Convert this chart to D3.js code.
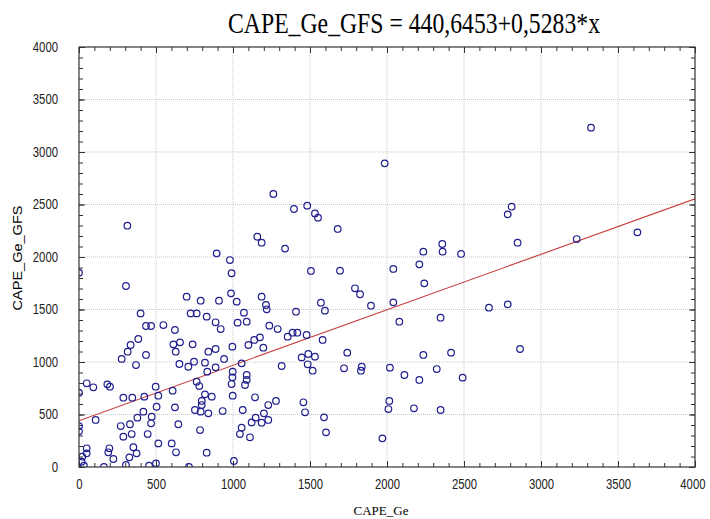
<!DOCTYPE html>
<html>
<head>
<meta charset="utf-8">
<script src="https://cdn.jsdelivr.net/npm/d3@7"></script>
<style>
  body { margin: 0; background: #fff; }
</style>
</head>
<body>
<div id="chart"></div>
<script>
// Data: CAPE_Ge (x) vs CAPE_Ge_GFS (y)
const capeGe = [
  894, 980, 991, 0, 305, 699, 790, 909, 987, 400, 725, 764, 829, 887, 920, 435, 468, 548, 623, 385,
  335, 316, 277, 435, 370, 613, 656, 738, 628, 652, 710, 747, 818, 840, 887, 942, 887, 833, 50, 93,
  184, 201, 0, 764, 781, 498, 608, 996, 998, 991, 996, 818, 862, 840, 933, 998, 829, 1006,
  288, 346, 424, 515, 108, 0, 0, 271, 331, 379, 418, 472, 468, 504, 623, 645, 288, 342, 446, 515,
  602, 630, 353, 374, 327, 305, 197, 190, 223, 50, 50, 21, 17, 32, 162, 455, 500, 714, 753, 790,
  786, 797, 797,
  1506, 1695, 1792, 1825, 1896, 1024, 1186, 1214, 1219, 1571, 1597, 1409, 1071, 1030, 1089, 1236, 1290, 1355, 1387, 1418,
  1478, 1582, 1175, 1138, 1100, 1197, 1056, 1089, 1089, 1078, 1143, 1316, 1446, 1489, 1532, 1485, 1517, 1742, 1721, 1836,
  1831, 1063, 1229, 1279, 1201, 1147, 1121, 1186, 1229, 1056, 1045, 1110, 1457, 1468, 1591, 1604, 1970, 1338,
  2236, 2361, 2481, 2210, 2041, 2242, 2041, 2080, 2348, 2662, 2784, 2864, 2236, 2416, 2019, 2113, 2210, 2323, 2491, 2015,
  2009, 2175, 2348, 2359, 2809, 2784, 2848,
  1262, 1396, 1482, 1532, 1552, 1680, 1158, 1186, 1985, 314, 3325, 3232, 3626
];
const capeGeGfs = [
  2035, 1971, 1845, 1851, 1724, 1622, 1584, 1584, 1654, 1463, 1463, 1463, 1432, 1378, 1314, 1343, 1343, 1352, 1305, 1219,
  1162, 1098, 1029, 1067, 971, 1168, 1187, 1168, 1098, 981, 955, 1003, 994, 1098, 1124, 1029, 949, 908, 797, 759,
  787, 765, 708, 813, 771, 765, 727, 854, 908, 790, 1146, 692, 670, 511, 533, 679, 136, 57,
  660, 660, 670, 679, 448, 390, 340, 390, 407, 470, 527, 479, 416, 574, 568, 407, 289, 314, 314, 225,
  225, 140, 188, 130, 92, 19, 178, 140, 76, 178, 130, 98, 50, 12, 0, 12, 35, 0, 543, 527,
  352, 629, 590,
  1867, 1870, 1702, 1645, 1536, 1575, 1622, 1543, 1502, 1565, 1489, 1479, 1470, 1375, 1384, 1346, 1314, 1241, 1279, 1279,
  1257, 1210, 1235, 1210, 1162, 1136, 987, 876, 829, 781, 664, 962, 1044, 1076, 1051, 978, 917, 1089, 940, 955,
  917, 543, 590, 629, 511, 470, 425, 422, 448, 375, 314, 283, 616, 521, 473, 330, 273, 2080,
  2051, 2051, 2029, 1930, 1886, 1749, 1568, 1384, 1422, 1517, 1549, 1124, 1067, 1089, 946, 876, 829, 933, 851, 629,
  552, 559, 543, 2124, 2479, 2406, 2136,
  2600, 2457, 2489, 2415, 2375, 2267, 2193, 2136, 2892, 2298, 3232, 2171, 2235
];

// Fitted line shown in the title
const intercept = 440.6453;
const slope = 0.5283;

const majorTicks = [0, 500, 1000, 1500, 2000, 2500, 3000, 3500, 4000];
const minorTicks = d3.range(0, 4001, 100);

const width = 710;
const height = 519;
const margin = { top: 47, right: 15, bottom: 52, left: 79 };
const plotW = width - margin.left - margin.right;
const plotH = height - margin.top - margin.bottom;

const svg = d3.select("#chart")
  .append("svg")
  .attr("width", width)
  .attr("height", height);

const g = svg.append("g")
  .attr("transform", `translate(${margin.left},${margin.top})`);

const x = d3.scaleLinear().domain([0, 4000]).range([0, plotW]);
const y = d3.scaleLinear().domain([0, 4000]).range([plotH, 0]);

// Dotted grid
g.append("g")
  .selectAll("line")
  .data(majorTicks.slice(1, -1))
  .join("line")
  .attr("x1", d => x(d)).attr("x2", d => x(d))
  .attr("y1", 0).attr("y2", plotH)
  .attr("stroke", "#c8c8c8")
  .attr("stroke-dasharray", "1,1");

g.append("g")
  .selectAll("line")
  .data(majorTicks.slice(1, -1))
  .join("line")
  .attr("x1", 0).attr("x2", plotW)
  .attr("y1", d => y(d)).attr("y2", d => y(d))
  .attr("stroke", "#c8c8c8")
  .attr("stroke-dasharray", "1,1");

// Inward ticks on all four sides
function ticks(axis, transform, values, size) {
  const a = g.append("g")
    .attr("transform", transform)
    .call(axis.tickValues(values).tickSize(-size).tickFormat(""));
  a.select(".domain").remove();
  a.selectAll("line").attr("stroke", "#333");
}
ticks(d3.axisBottom(x), `translate(0,${plotH})`, minorTicks, 4);
ticks(d3.axisTop(x), "translate(0,0)", minorTicks, 4);
ticks(d3.axisLeft(y), "translate(0,0)", minorTicks, 4);
ticks(d3.axisRight(y), `translate(${plotW},0)`, minorTicks, 4);
ticks(d3.axisBottom(x), `translate(0,${plotH})`, majorTicks, 6);
ticks(d3.axisTop(x), "translate(0,0)", majorTicks, 6);
ticks(d3.axisLeft(y), "translate(0,0)", majorTicks, 6);
ticks(d3.axisRight(y), `translate(${plotW},0)`, majorTicks, 6);

// Tick labels
const xAxis = g.append("g")
  .attr("transform", `translate(0,${plotH})`)
  .call(d3.axisBottom(x).tickValues(majorTicks).tickSize(0).tickPadding(12).tickFormat(d3.format("d")));
xAxis.select(".domain").remove();

const yAxis = g.append("g")
  .call(d3.axisLeft(y).tickValues(majorTicks).tickSize(0).tickPadding(21).tickFormat(d3.format("d")));
yAxis.select(".domain").remove();

g.selectAll(".tick text")
  .attr("font-family", "Liberation Sans, Arial, sans-serif")
  .attr("font-size", 14)
  .attr("fill", "#222")
  .attr("textLength", function () { return this.textContent.length * 6.3; })
  .attr("lengthAdjust", "spacingAndGlyphs");

// last x label sits at the window edge: anchor its right end instead
xAxis.selectAll(".tick text")
  .filter(d => d === 4000)
  .attr("text-anchor", "end")
  .attr("x", 10);

// Clip for the marks
svg.append("defs").append("clipPath")
  .attr("id", "plot-clip")
  .append("rect")
  .attr("width", plotW)
  .attr("height", plotH);

const marks = g.append("g").attr("clip-path", "url(#plot-clip)");

// Regression line
marks.append("line")
  .attr("x1", x(0)).attr("y1", y(intercept))
  .attr("x2", x(4000)).attr("y2", y(intercept + slope * 4000))
  .attr("stroke", "#c83c3c")
  .attr("stroke-width", 1.1);

// Points
marks.append("g")
  .selectAll("circle")
  .data(capeGe.map((v, i) => [v, capeGeGfs[i]]))
  .join("circle")
  .attr("cx", d => x(d[0]))
  .attr("cy", d => y(d[1]))
  .attr("r", 3.3)
  .attr("fill", "none")
  .attr("stroke", "#1f1f8f")
  .attr("stroke-width", 1.2);

// Frame
g.append("rect")
  .attr("width", plotW)
  .attr("height", plotH)
  .attr("fill", "none")
  .attr("stroke", "#333")
  .attr("stroke-width", 1.2);

// Title and axis titles
svg.append("text")
  .attr("x", 228)
  .attr("y", 33)
  .attr("font-family", "Liberation Serif, Times New Roman, serif")
  .attr("font-size", 29)
  .attr("textLength", 372)
  .attr("lengthAdjust", "spacingAndGlyphs")
  .text(`CAPE_Ge_GFS = 440,6453+0,5283*x`);

svg.append("text")
  .attr("x", margin.left + plotW / 2 - 6)
  .attr("y", 515)
  .attr("text-anchor", "middle")
  .attr("font-family", "Liberation Serif, Times New Roman, serif")
  .attr("font-size", 13)
  .text("CAPE_Ge");

svg.append("text")
  .attr("transform", `translate(22,258) rotate(-90)`)
  .attr("text-anchor", "middle")
  .attr("font-family", "Liberation Sans, Arial, sans-serif")
  .attr("font-size", 12)
  .attr("textLength", 105)
  .attr("lengthAdjust", "spacingAndGlyphs")
  .text("CAPE_Ge_GFS");
</script>
</body>
</html>
